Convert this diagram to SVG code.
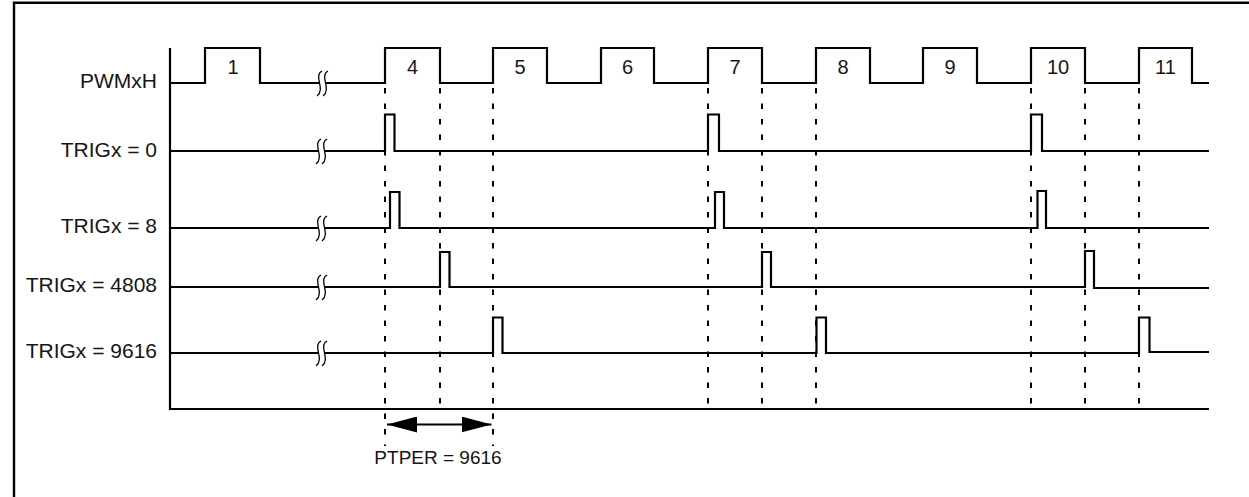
<svg xmlns="http://www.w3.org/2000/svg" xmlns:xlink="http://www.w3.org/1999/xlink" width="1249" height="497" viewBox="0 0 1249 497">
<style>
.bg{fill:#fff}
.frame{fill:none;stroke:#000;stroke-width:2.4}
.trace{fill:none;stroke:#000;stroke-width:2.2;stroke-linejoin:miter}
.dash{fill:none;stroke:#000;stroke-width:2;stroke-dasharray:5.5 10}
.lbl{font-family:"Liberation Sans",Arial,sans-serif;font-size:21px;fill:#151515;text-anchor:end}
.num{font-family:"Liberation Sans",Arial,sans-serif;font-size:20px;fill:#151515;text-anchor:middle}
.cap{font-family:"Liberation Sans",Arial,sans-serif;font-size:19px;fill:#151515;text-anchor:middle}
.brkfill{fill:#fff;stroke:none}
.brkline{fill:none;stroke:#000;stroke-width:1.3}
</style>
<defs>
<g id="brk">
<path class="brkfill" d="M3,-12 C-6,-7 7,6 -2,13 L4,13 C13,6 0,-7 9,-12 Z"/>
<path class="brkline" d="M3,-12 C-6,-7 7,6 -2,13 M9,-12 C0,-7 13,6 4,13"/>
</g>
<marker id="ah" viewBox="0 0 30 16" refX="30" refY="8" markerWidth="30" markerHeight="16" markerUnits="userSpaceOnUse" orient="auto-start-reverse">
<path d="M0,0 L30,8 L0,16 Z" fill="#000"/>
</marker>
</defs>
<rect class="bg" x="0" y="0" width="1249" height="497"/>
<path class="frame" d="M14,497 V2.7 H1249"/>

<g id="connectors">
<path id="axis" class="trace" d="M170,48 V409 H1209"/>
<path class="dash" d="M385,88 V446"/>
<path class="dash" d="M440,88 V409"/>
<path class="dash" d="M493,88 V446"/>
<path class="dash" d="M708,88 V409"/>
<path class="dash" d="M762,88 V409"/>
<path class="dash" d="M816,88 V409"/>
<path class="dash" d="M1031,88 V409"/>
<path class="dash" d="M1085,88 V409"/>
<path class="dash" d="M1139,88 V409"/>
<path id="ptper-arrow" d="M387,424.5 H491.5" stroke="#000" stroke-width="2.2" fill="none" marker-start="url(#ah)" marker-end="url(#ah)"/>
</g>

<g id="pwmxh">
<text class="lbl" x="157" y="88">PWMxH</text>
<path class="trace" d="M170,83 H205 V48 H260 V83 H385 V48 H440 V83 H493 V48 H547 V83 H601 V48 H654 V83 H708 V48 H762 V83 H816 V48 H870 V83 H923 V48 H977 V83 H1031 V48 H1085 V83 H1139 V48 H1192 V83 H1209"/>
<use xlink:href="#brk" transform="translate(319,83)"/>
<text class="num" x="233" y="74">1</text>
<text class="num" x="412.5" y="74">4</text>
<text class="num" x="520" y="74">5</text>
<text class="num" x="627.5" y="74">6</text>
<text class="num" x="735" y="74">7</text>
<text class="num" x="843" y="74">8</text>
<text class="num" x="950" y="74">9</text>
<text class="num" x="1058" y="74">10</text>
<text class="num" x="1165.5" y="74">11</text>
</g>

<g id="trig0">
<text class="lbl" x="157" y="157">TRIGx = 0</text>
<path class="trace" d="M170,151 H385 V114.5 H394.5 V151 H708 V114.5 H719 V151 H1031 V114.5 H1042 V151 H1209"/>
<use xlink:href="#brk" transform="translate(318,151)"/>
</g>

<g id="trig8">
<text class="lbl" x="157" y="233">TRIGx = 8</text>
<path class="trace" d="M170,228 H390 V192 H399.5 V228 H715 V192 H724 V228 H1037.5 V191 H1046 V228 H1209"/>
<use xlink:href="#brk" transform="translate(318,228)"/>
</g>

<g id="trig4808">
<text class="lbl" x="157" y="292">TRIGx = 4808</text>
<path class="trace" d="M170,287 H440 V252 H449.5 V287 H762 V252 H771 V287 H1085 V251 H1094 V288 H1209"/>
<use xlink:href="#brk" transform="translate(318,287)"/>
</g>

<g id="trig9616">
<text class="lbl" x="157" y="358">TRIGx = 9616</text>
<path class="trace" d="M170,353 H493 V317.5 H502.5 V353 H816.5 V317.5 H826 V353 H1139 V317.5 H1149.5 V352 H1209"/>
<use xlink:href="#brk" transform="translate(318,353)"/>
</g>

<g id="ptper">
<text class="cap" x="438" y="464">PTPER = 9616</text>
</g>
</svg>
